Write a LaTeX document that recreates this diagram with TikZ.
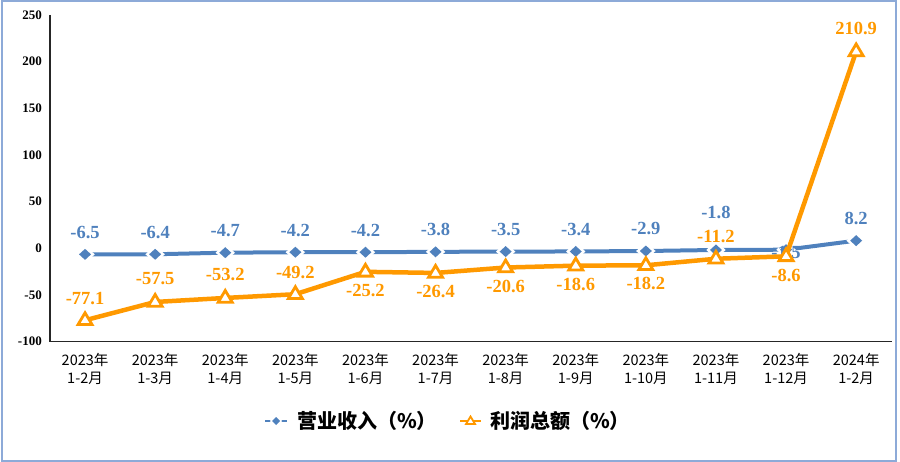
\documentclass[tikz,border=0pt]{standalone}
\usepackage{fontspec}
\setmainfont{Liberation Serif}
\newfontfamily\cjk{Noto Sans CJK SC}
\usetikzlibrary{calc}
\definecolor{sblue}{RGB}{79,129,189}
\definecolor{sorange}{RGB}{255,153,0}
\definecolor{framecol}{RGB}{141,170,216}
\tikzset{
  axisline/.style={draw=black!85, line width=1.5pt},
  ticklab/.style={anchor=east, font=\bfseries\fontsize{13}{13}\selectfont, inner sep=0pt},
  catlab/.style={align=center, font=\cjk\fontsize{14.5}{18}\selectfont, inner sep=0pt},
  bluelab/.style={text=sblue, font=\bfseries\fontsize{18.5}{18.5}\selectfont, inner sep=0pt},
  orangelab/.style={text=sorange, font=\bfseries\fontsize{18.5}{18.5}\selectfont, inner sep=0pt},
  blueline/.style={draw=sblue, line width=4pt, line join=round},
  orangeline/.style={draw=sorange, line width=4.5pt, line join=round},
  leglab/.style={anchor=west, font=\cjk\bfseries\fontsize{20}{20}\selectfont, inner sep=0pt},
}
\begin{document}
\begin{tikzpicture}[x=1pt,y=-1pt]
\useasboundingbox (0,0) rectangle (900,462);
\draw[framecol, line width=1.3pt] (2,1) rectangle (896,461);
% axes
\coordinate (ytop) at (50,15);
\coordinate (orig) at (50,341.7);
\coordinate (xend) at (892,341.7);
\draw[axisline] (ytop) -- (orig) -- (xend);
\foreach \v in {250,200,150,100,50,0,-50,-100}
  \node[ticklab] (t\v) at (42,{248.3-0.9334*\v}) {\v};
% categories
\foreach \yr/\m [count=\i] in {2023/2,2023/3,2023/4,2023/5,2023/6,2023/7,2023/8,2023/9,2023/10,2023/11,2023/12,2024/2}
  \node[catlab] (c\i) at ({50+70.1*(\i-0.5)},369) {\yr{}年\\1-\m{}月};
% data coordinates
\foreach \v [count=\i] in {-6.5,-6.4,-4.7,-4.2,-4.2,-3.8,-3.5,-3.4,-2.9,-1.8,-1.5,8.2}
  \coordinate (b\i) at ({50+70.1*(\i-0.5)},{248.3-0.9334*\v});
\foreach \v [count=\i] in {-77.1,-57.5,-53.2,-49.2,-25.2,-26.4,-20.6,-18.6,-18.2,-11.2,-8.6,210.9}
  \coordinate (o\i) at ({50+70.1*(\i-0.5)},{248.3-0.9334*\v});
% blue series
\draw[blueline] (b1) \foreach \i in {2,...,12}{ -- (b\i)};
\foreach \i in {1,...,12}{
  \filldraw[white, line width=5pt, line join=miter, shift={(b\i)}] (-6,0)--(0,-5.5)--(6,0)--(0,5.5)--cycle;
  \fill[sblue, shift={(b\i)}] (-6,0)--(0,-5.5)--(6,0)--(0,5.5)--cycle;
}
\foreach \v/\dy [count=\i] in {-6.5/-22,-6.4/-22,-4.7/-22,-4.2/-22,-4.2/-22,-3.8/-22,-3.5/-22,-3.4/-22,-2.9/-22,-1.8/-37,-1.5/3,8.2/-22}
  \node[bluelab] (bl\i) at ($(b\i)+(0,\dy)$) {\v};
% orange series
\draw[orangeline] (o1) \foreach \i in {2,...,12}{ -- (o\i)};
\foreach \i in {1,...,12}
  \filldraw[draw=sorange, fill=white, line width=2.8pt, line join=miter, shift={(o\i)}] (0,-7.5)--(7,4.3)--(-7,4.3)--cycle;
\foreach \v/\dy [count=\i] in {-77.1/-22,-57.5/-23,-53.2/-23,-49.2/-22,-25.2/19,-26.4/19,-20.6/19,-18.6/19,-18.2/18,-11.2/-22,-8.6/19,210.9/-23}
  \node[orangelab] (ol\i) at ($(o\i)+(0,\dy)$) {\v};
% legend
\coordinate (lb1) at (265,421);
\coordinate (lb2) at (287,421);
\coordinate (lbm) at (276,421);
\draw[sblue, line width=2.5pt] (lb1) -- (lb2);
\filldraw[white, line width=3pt, line join=miter, shift={(lbm)}] (-4,0)--(0,-4)--(4,0)--(0,4)--cycle;
\fill[sblue, shift={(lbm)}] (-4,0)--(0,-4)--(4,0)--(0,4)--cycle;
\node[leglab] (leg1) at (297,421) {营业收入（\%）};
\coordinate (lo1) at (460,421);
\coordinate (lo2) at (481,421);
\coordinate (lom) at (470.5,421);
\draw[sorange, line width=2.5pt] (lo1) -- (lo2);
\filldraw[draw=sorange, fill=white, line width=1.8pt, line join=miter, shift={(lom)}] (0,-4.5)--(4.5,3)--(-4.5,3)--cycle;
\node[leglab] (leg2) at (490,421) {利润总额（\%）};
\end{tikzpicture}
\end{document}
